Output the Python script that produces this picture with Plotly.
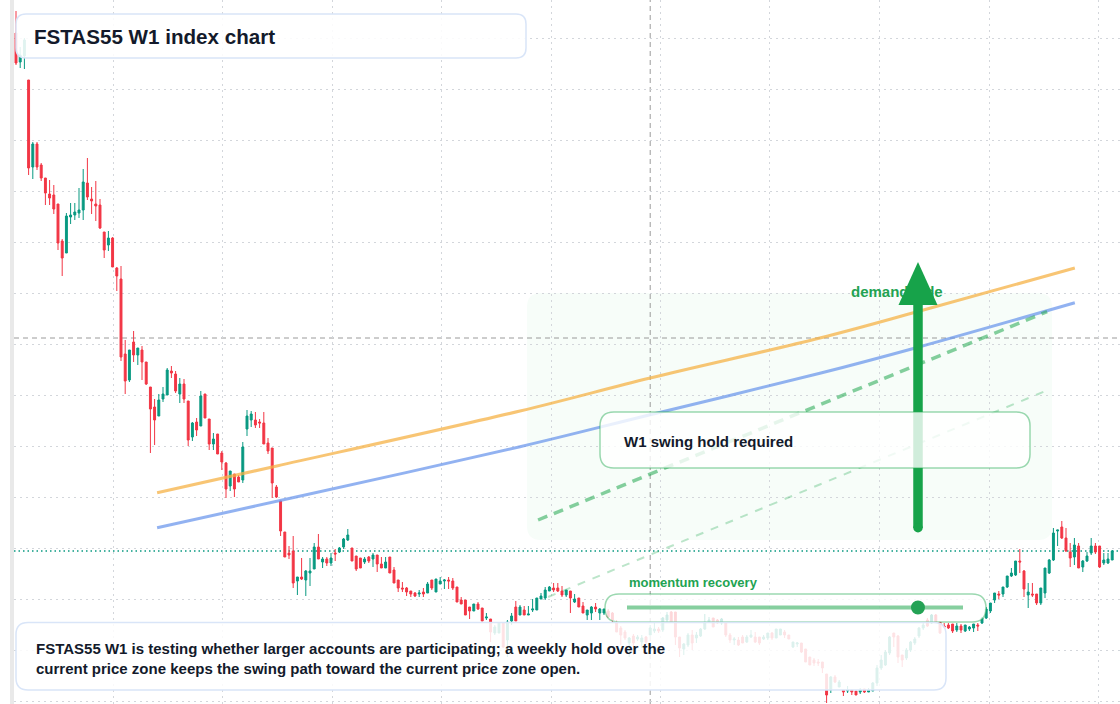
import plotly.graph_objects as go

# ---------------- data (weekly candles, index level) ----------------
week = list(range(262))
open_ = [967,938,944,920,833,856,835,822,806,805,796,759,747,783,785,787,790,817,801,796,
         795,768,755,762,732,721,646,620,658,645,650,638,613,593,584,601,605,629,626,606,
         616,599,563,578,574,606,581,556,566,547,537,514,526,523,520,571,580,580,578,577,
         557,552,513,499,468,447,449,419,423,420,427,431,453,438,441,437,447,448,453,460,
         452,444,442,438,443,441,445,436,432,443,430,420,412,412,409,407,406,408,407,420,
         408,416,419,420,419,413,400,400,393,389,396,392,382,381,367,367,377,360,379,393,
         385,390,385,390,390,401,402,409,412,412,409,405,409,398,402,394,385,387,393,387,
         387,389,387,377,372,368,357,364,361,358,363,365,369,371,370,380,388,388,363,351,
         355,365,362,364,371,378,382,380,377,377,365,360,360,363,358,363,363,363,361,362,
         367,362,365,368,365,353,356,357,351,343,340,338,338,326,310,323,313,310,309,310,
         309,308,311,308,309,317,332,335,347,367,364,345,342,350,357,364,372,380,377,385,
         378,374,375,376,370,374,369,371,372,375,377,382,389,400,406,406,413,424,425,439,
         429,405,406,406,397,407,427,440,469,473,462,448,443,454,433,439,447,454,454,437,
         437,440]
high = [989,953,962,920,858,858,837,822,820,815,796,761,787,797,797,812,831,842,813,819,
        801,768,769,763,733,734,660,650,669,652,654,638,613,601,606,613,632,634,629,622,
        621,599,578,582,609,606,581,567,566,549,538,529,526,525,558,590,589,588,581,588,
        562,552,515,499,468,454,464,423,442,430,442,457,466,443,443,447,451,453,462,471,
        452,444,442,443,444,447,445,443,443,443,433,420,418,413,409,408,410,412,418,420,
        421,423,421,423,422,413,403,400,393,396,398,392,387,381,375,378,377,380,387,399,
        395,394,394,401,402,407,413,414,417,417,414,410,409,406,402,398,390,394,397,392,
        391,391,388,380,374,370,363,366,365,365,364,375,377,373,383,388,389,388,363,357,
        367,370,368,372,386,383,382,381,382,377,367,363,363,365,365,370,368,363,365,367,
        368,371,371,370,365,358,358,357,351,343,342,341,338,326,324,325,320,310,314,310,
        309,312,311,312,318,335,345,350,364,367,365,345,352,359,363,373,377,382,386,386,
        378,377,377,376,377,376,375,374,376,377,383,393,397,407,409,413,424,432,439,451,
        430,417,417,406,412,432,441,472,470,479,472,457,462,457,440,448,462,457,454,447,
        447,450]
low = [935,932,931,825,821,830,819,795,795,786,750,724,747,776,780,782,780,800,786,779,
       771,742,749,733,709,639,606,618,638,635,620,615,547,555,584,598,605,622,607,597,
       597,554,559,564,574,582,550,550,546,530,502,509,503,518,517,564,573,572,572,556,
       546,502,502,464,443,441,412,405,420,404,414,431,441,432,434,434,439,447,451,459,
       439,429,432,436,437,433,428,432,432,427,417,408,408,404,403,403,403,403,407,410,
       408,416,411,411,410,398,396,385,381,389,390,379,380,358,365,367,352,343,375,379,
       385,385,385,388,390,401,400,409,408,408,403,403,387,397,393,387,380,380,388,380,
       385,382,377,368,355,360,343,345,359,352,356,365,367,367,368,378,378,355,343,345,
       353,350,357,363,370,377,373,376,375,363,357,355,354,357,357,362,357,355,360,360,
       360,362,365,362,361,352,353,347,338,335,334,334,327,297,307,317,313,304,307,305,
       305,306,307,308,309,314,330,334,345,353,337,333,340,348,355,362,370,373,376,377,
       366,372,371,367,368,367,368,369,368,369,376,381,387,397,401,403,412,423,424,427,
       403,392,403,395,395,402,426,439,454,461,448,433,435,432,428,438,445,446,432,435,
       436,440]
close = [937,945,960,832,856,833,822,807,802,791,757,742,784,785,788,790,818,803,799,794,
         772,750,762,733,724,643,619,650,645,652,638,616,591,580,600,606,630,627,609,616,
         601,560,577,570,604,582,556,561,546,538,511,529,511,518,553,584,586,575,577,556,
         549,517,503,469,443,445,417,423,421,429,429,453,441,441,437,442,446,452,461,465,
         439,431,432,441,439,445,436,432,438,427,417,412,411,408,406,404,407,406,416,412,
         421,419,420,419,412,398,396,385,389,396,391,379,383,368,373,377,353,378,384,379,
         393,385,386,391,402,404,410,413,410,409,405,410,402,401,393,387,390,393,391,391,
         391,383,380,368,365,362,362,357,363,362,358,372,371,369,382,385,378,363,352,356,
         365,357,365,371,378,380,373,377,381,365,360,361,355,357,363,365,358,357,363,367,
         362,371,371,365,361,358,357,348,338,335,337,337,332,305,323,318,318,308,310,308,
         305,310,308,310,317,332,340,348,363,363,343,340,350,358,361,372,375,374,385,378,
         367,373,372,369,374,370,375,373,376,374,382,391,397,407,405,413,424,427,439,438,
         411,408,405,397,412,432,440,467,470,462,449,442,455,432,439,444,454,448,433,440,
         441,449]

# grid positions (week index / level)
grid_weeks = [23.1, 49.2, 75.3, 101.3, 127.4, 153.5, 179.5, 205.6, 231.7, 257.7]
grid_levels = [299, 350, 401, 452, 503, 554, 605, 656, 707, 758, 809, 860, 911, 962]

# overlay reference curves (week index, level)
fast_curve_week = [33.6, 62.1, 120.0, 151.0, 191.4, 215.2, 252.1]
fast_curve_level = [507.3, 534.0, 589.0, 622.0, 662.0, 689.0, 732.0]
slow_curve_week = [33.6, 66.4, 120.0, 151.0, 191.4, 215.2, 252.1]
slow_curve_level = [472.3, 502.7, 553.3, 585.3, 626.7, 653.3, 697.3]
swing_path_week = [124.3, 245.5]
swing_path_level = [480.0, 688.3]
alt_path_week = [126.7, 245.7]
alt_path_level = [403.0, 610.0]
crosshair_week = 151
crosshair_level = 662
momentum_value = 0.866  # position on the momentum gauge (0..1)

# ---------------- layout geometry (pixels) ----------------
W, H, LM = 1120, 704, 14
PX_PER_WEEK = 4.2
FIRST_X = 16
x_lo = -(FIRST_X - LM) / PX_PER_WEEK
x_hi = x_lo + (W - LM) / PX_PER_WEEK


def fx(x):
    return (x - LM) / (W - LM)


def fy(y):
    return 1 - y / H


def rrect(x0, y0, x1, y1, r):
    return (f"M {fx(x0+r)},{fy(y0)} L {fx(x1-r)},{fy(y0)} Q {fx(x1)},{fy(y0)} {fx(x1)},{fy(y0+r)} "
            f"L {fx(x1)},{fy(y1-r)} Q {fx(x1)},{fy(y1)} {fx(x1-r)},{fy(y1)} "
            f"L {fx(x0+r)},{fy(y1)} Q {fx(x0)},{fy(y1)} {fx(x0)},{fy(y1-r)} "
            f"L {fx(x0)},{fy(y0+r)} Q {fx(x0)},{fy(y0)} {fx(x0+r)},{fy(y0)} Z")


FONT = "Liberation Sans, Arial, sans-serif"
NAVY = "#131a2b"
GREEN_TXT = "#22a352"
UP, DOWN = "#089981", "#f23645"

fig = go.Figure()

fig.add_trace(go.Candlestick(
    x=week, open=open_, high=high, low=low, close=close,
    increasing=dict(line=dict(color=UP, width=1), fillcolor=UP),
    decreasing=dict(line=dict(color=DOWN, width=1), fillcolor=DOWN),
    whiskerwidth=0, showlegend=False, hoverinfo="skip"))

fig.add_trace(go.Scatter(x=fast_curve_week, y=fast_curve_level, mode="lines",
                         line=dict(color="rgba(246,178,70,0.75)", width=3, shape="spline"),
                         showlegend=False, hoverinfo="skip"))
fig.add_trace(go.Scatter(x=slow_curve_week, y=slow_curve_level, mode="lines",
                         line=dict(color="rgba(100,145,235,0.7)", width=3, shape="spline"),
                         showlegend=False, hoverinfo="skip"))
fig.add_trace(go.Scatter(x=swing_path_week, y=swing_path_level, mode="lines",
                         line=dict(color="rgba(34,168,80,0.55)", width=3.5, dash="10px,7px"),
                         showlegend=False, hoverinfo="skip"))
fig.add_trace(go.Scatter(x=alt_path_week, y=alt_path_level, mode="lines",
                         line=dict(color="rgba(34,168,80,0.3)", width=2, dash="8px,8px"),
                         showlegend=False, hoverinfo="skip"))

# "demand side" label lives under the arrow
fig.add_trace(go.Scatter(x=[(851 - FIRST_X) / PX_PER_WEEK], y=[1000 - 293], mode="text",
                         text=["<b>demand side</b>"], textposition="middle right",
                         textfont=dict(family=FONT, size=15, color=GREEN_TXT),
                         showlegend=False, hoverinfo="skip"))

shapes = []
# green zone
shapes.append(dict(type="path", path=rrect(527, 293, 1052, 540, 14), xref="paper", yref="paper",
                   fillcolor="rgba(34,197,94,0.035)", line=dict(width=0), layer="below"))
# left strip
shapes.append(dict(type="rect", xref="paper", yref="paper", x0=fx(10), x1=fx(14), y0=0, y1=1,
                   fillcolor="#e9e9e9", line=dict(width=0), layer="above"))
# crosshair
shapes.append(dict(type="line", xref="x", yref="paper", x0=crosshair_week, x1=crosshair_week, y0=0, y1=1,
                   line=dict(color="#9a9a9a", width=1, dash="5px,4px"), layer="between"))
shapes.append(dict(type="line", xref="paper", yref="y", x0=0, x1=1, y0=crosshair_level, y1=crosshair_level,
                   line=dict(color="#9a9a9a", width=1, dash="5px,4px"), layer="between"))
# last price line
shapes.append(dict(type="line", xref="paper", yref="y", x0=0, x1=1, y0=close[-1], y1=close[-1],
                   line=dict(color=UP, width=1.3, dash="1.5px,3px"), layer="between"))

# arrow (above traces, below boxes)
AX = 918
shapes.append(dict(type="line", xref="paper", yref="paper", x0=fx(AX), x1=fx(AX), y0=fy(528), y1=fy(303),
                   line=dict(color="#17a34a", width=9.5), layer="above"))
shapes.append(dict(type="circle", xref="paper", yref="paper", x0=fx(AX - 4.75), x1=fx(AX + 4.75),
                   y0=fy(532.5), y1=fy(523), fillcolor="#17a34a", line=dict(width=0), layer="above"))
shapes.append(dict(type="path", xref="paper", yref="paper",
                   path=f"M {fx(AX-19.5)},{fy(305)} L {fx(AX+19.5)},{fy(305)} L {fx(AX)},{fy(262)} Z",
                   fillcolor="#17a34a", line=dict(width=0), layer="above"))

# boxes
shapes.append(dict(type="path", path=rrect(16, 14, 526, 58, 10), xref="paper", yref="paper",
                   fillcolor="rgba(255,255,255,0.88)", line=dict(color="#d9e5f8", width=1.5), layer="above"))
shapes.append(dict(type="path", path=rrect(600, 412, 1030, 468, 14), xref="paper", yref="paper",
                   fillcolor="rgba(255,255,255,0.8)", line=dict(color="rgba(34,168,80,0.45)", width=1.5),
                   layer="above"))
shapes.append(dict(type="path", path=rrect(605, 594, 986, 622, 14), xref="paper", yref="paper",
                   fillcolor="rgba(255,255,255,0.8)", line=dict(color="rgba(34,168,80,0.45)", width=1.5),
                   layer="above"))
shapes.append(dict(type="path", path=rrect(16, 622.5, 946, 690, 12), xref="paper", yref="paper",
                   fillcolor="rgba(255,255,255,0.86)", line=dict(color="#d9e5f8", width=1.5), layer="above"))

# momentum gauge
G0, G1, GY = 627, 963, 607.5
shapes.append(dict(type="line", xref="paper", yref="paper", x0=fx(G0), x1=fx(G1), y0=fy(GY), y1=fy(GY),
                   line=dict(color="rgba(34,168,80,0.55)", width=4), layer="above"))
dot_x = G0 + momentum_value * (G1 - G0)
shapes.append(dict(type="circle", xref="paper", yref="paper", x0=fx(dot_x - 7), x1=fx(dot_x + 7),
                   y0=fy(GY + 7), y1=fy(GY - 7), fillcolor="#24a255", line=dict(width=0), layer="above"))

annotations = [
    dict(x=fx(32), y=fy(36.5), xref="paper", yref="paper", xanchor="left", yanchor="middle", showarrow=False,
         text="<b>FSTAS55 W1 index chart</b>", font=dict(family=FONT, size=20.6, color=NAVY)),
    dict(x=fx(34), y=fy(648), xref="paper", yref="paper", xanchor="left", yanchor="middle", showarrow=False,
         text="<b>FSTAS55 W1 is testing whether larger accounts are participating; a weekly hold over the</b>",
         font=dict(family=FONT, size=15, color=NAVY)),
    dict(x=fx(34), y=fy(668), xref="paper", yref="paper", xanchor="left", yanchor="middle", showarrow=False,
         text="<b>current price zone keeps the swing path toward the current price zone open.</b>",
         font=dict(family=FONT, size=15, color=NAVY)),
    dict(x=fx(622), y=fy(441.5), xref="paper", yref="paper", xanchor="left", yanchor="middle", showarrow=False,
         text="<b>W1 swing hold required</b>", font=dict(family=FONT, size=15, color=NAVY)),
    dict(x=fx(627), y=fy(582.5), xref="paper", yref="paper", xanchor="left", yanchor="middle", showarrow=False,
         text="<b>momentum recovery</b>", font=dict(family=FONT, size=13, color=GREEN_TXT)),
]

fig.update_layout(
    width=W, height=H, margin=dict(l=LM, r=0, t=0, b=0),
    paper_bgcolor="white", plot_bgcolor="white",
    shapes=shapes, annotations=annotations, boxgap=0.35,
    xaxis=dict(range=[x_lo, x_hi], showticklabels=False, zeroline=False, showline=False,
               showgrid=True, gridcolor="#d3d6db", griddash="2px,4px", gridwidth=1,
               tickmode="array", tickvals=grid_weeks,
               rangeslider=dict(visible=False), fixedrange=True),
    yaxis=dict(range=[1000 - H, 1000], showticklabels=False, zeroline=False, showline=False,
               showgrid=True, gridcolor="#d3d6db", griddash="2px,4px", gridwidth=1,
               tickmode="array", tickvals=grid_levels, fixedrange=True),
    showlegend=False, hovermode=False,
)

fig.write_html("out.html", config=dict(displayModeBar=False))
